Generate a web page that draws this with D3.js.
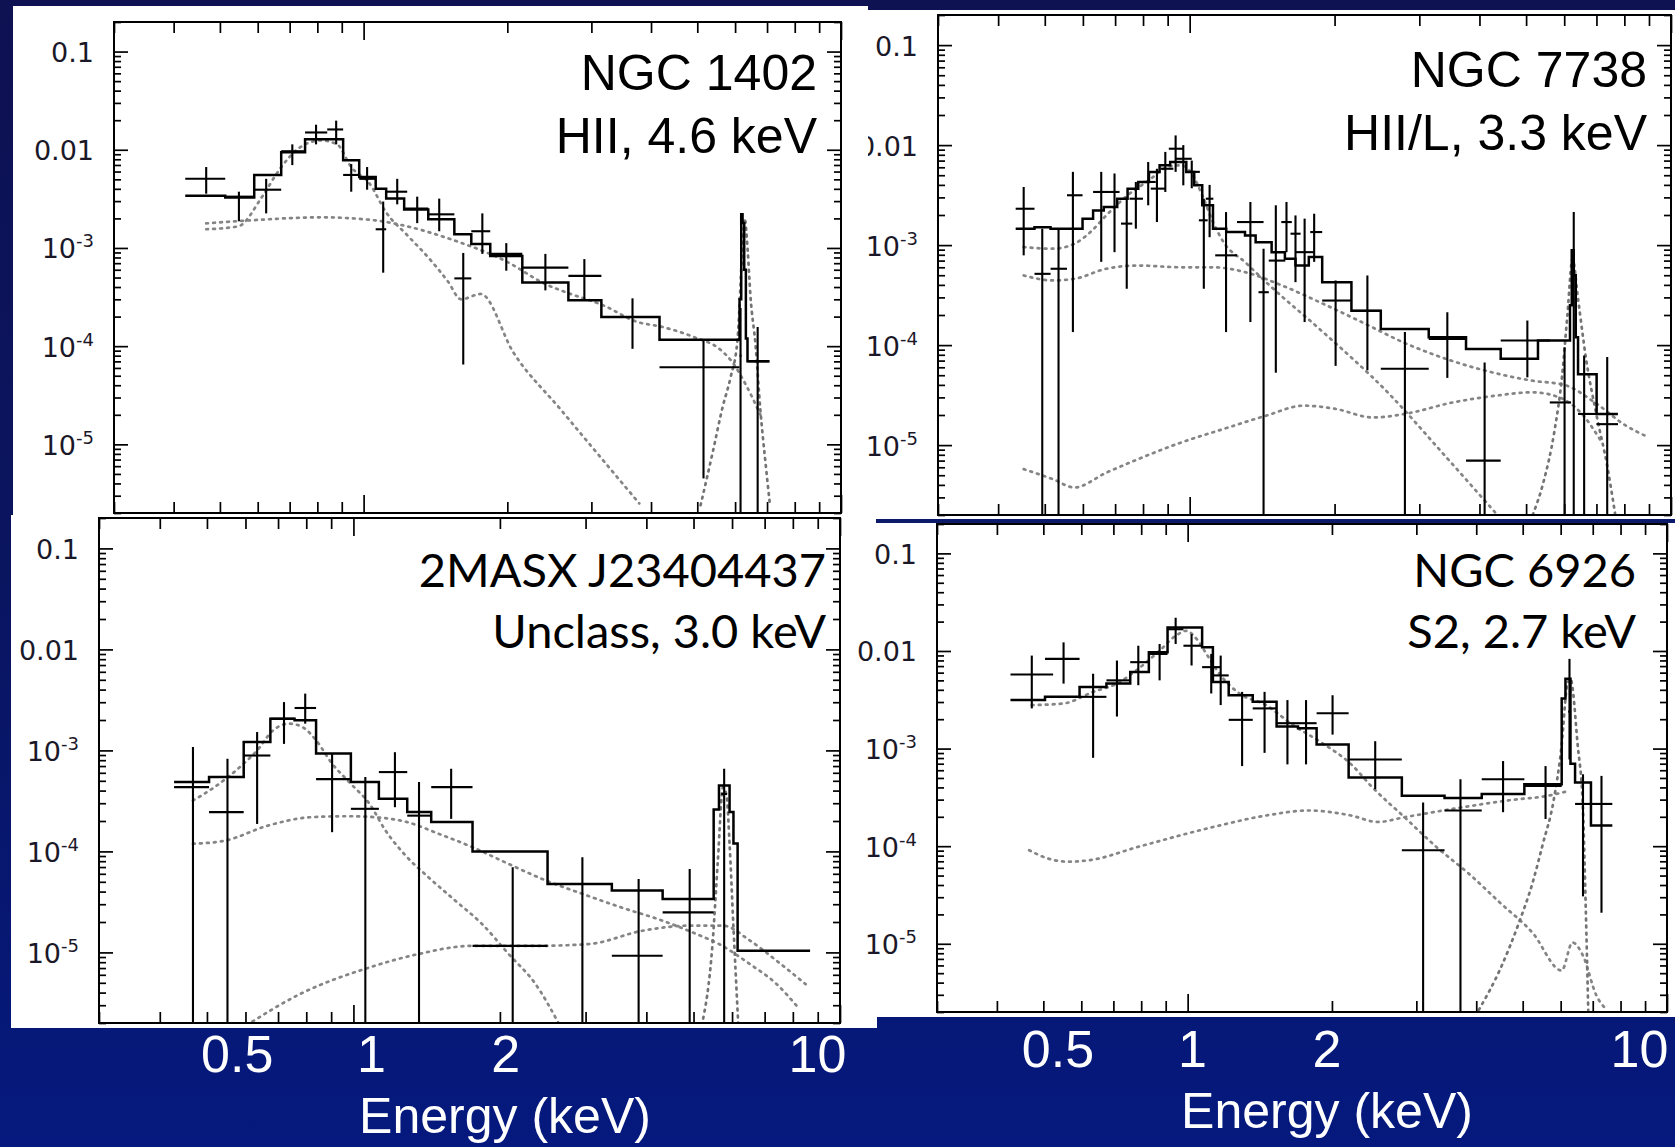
<!DOCTYPE html>
<html>
<head>
<meta charset="utf-8">
<title>X-ray spectra of four galaxies</title>
<script src="https://cdn.jsdelivr.net/npm/d3@7"></script>
<style>
  html, body { margin: 0; padding: 0; background: #0a135c; }
  svg { display: block; }
</style>
</head>
<body>
<svg id="chart" width="1675" height="1147"></svg>
<script>
// ---------- shared axes ----------
const energyDomain = [0.3, 10];          // keV
const fluxDomain = [2e-6, 0.2];          // counts s^-1 keV^-1
const fluxTickValues = [0.1, 0.01, 1e-3, 1e-4, 1e-5];
const energyTickValues = [0.5, 1, 2, 10];
const energyAxisTitle = "Energy (keV)";

// Data rows: [E, Elo, Ehi, flux, fluxLo, fluxHi]
// Model: bin edges (keV) and binned model flux
// Components: [E, flux] samples of each model component

// ---------- NGC 1402 ----------
const ngc1402Title = ["NGC 1402", "HII, 4.6 keV"];
const ngc1402Points = [
  [0.468, 0.423, 0.513, 5.06e-3, 3.57e-3, 6.67e-3],
  [0.548, 0.513, 0.590, 3.33e-3, 1.87e-3, 3.74e-3],
  [0.625, 0.590, 0.672, 3.92e-3, 2.25e-3, 5.06e-3],
  [0.709, 0.672, 0.754, 9.66e-3, 6.98e-3, 1.135e-2],
  [0.795, 0.754, 0.839, 1.50e-2, 1.135e-2, 1.80e-2],
  [0.876, 0.839, 0.906, 1.61e-2, 1.135e-2, 1.98e-2],
  [0.942, 0.906, 0.979, 5.54e-3, 3.74e-3, 7.15e-3],
  [1.017, 0.979, 1.060, 5.06e-3, 3.92e-3, 6.67e-3],
  [1.099, 1.060, 1.115, 1.55e-3, 5.6e-4, 2.97e-3],
  [1.176, 1.115, 1.234, 3.74e-3, 2.78e-3, 5.06e-3],
  [1.295, 1.216, 1.366, 2.52e-3, 1.79e-3, 3.33e-3],
  [1.440, 1.366, 1.549, 2.20e-3, 1.48e-3, 3.18e-3],
  [1.617, 1.549, 1.681, 4.9e-4, 6.5e-5, 8.9e-4],
  [1.773, 1.681, 1.842, 1.48e-3, 8.7e-4, 2.25e-3],
  [1.990, 1.842, 2.150, 8.7e-4, 5.87e-4, 1.12e-3],
  [2.403, 2.150, 2.685, 6.3e-4, 3.7e-4, 8.7e-4],
  [2.900, 2.685, 3.148, 5.2e-4, 2.9e-4, 7.7e-4],
  [3.658, 3.148, 4.167, 1.98e-4, 9.4e-5, 3.07e-4],
  [5.152, 4.167, 6.130, 6.1e-5, 4.5e-6, 1.16e-4],
  [6.160, 6.130, 6.190, 8.0e-5, 1e-7, 2.44e-4],
  [6.690, 6.370, 7.080, 7.0e-5, 1e-7, 1.57e-4]
];
const ngc1402ModelEdges = [0.423, 0.513, 0.590, 0.672, 0.754, 0.839, 0.906, 0.979, 1.06, 1.115, 1.216, 1.366, 1.549, 1.681, 1.842, 2.150, 2.685, 3.148, 4.167, 6.13, 6.18, 6.22, 6.27, 6.32, 6.37, 7.08];
const ngc1402ModelFlux = [3.41e-3, 3.26e-3, 5.54e-3, 9.44e-3, 1.28e-2, 1.28e-2, 7.84e-3, 5.29e-3, 4.01e-3, 3.18e-3, 2.47e-3, 1.96e-3, 1.38e-3, 1.10e-3, 8.3e-4, 4.45e-4, 2.93e-4, 1.98e-4, 1.16e-4, 3.0e-4, 2.2e-3, 1.8e-3, 6.0e-4, 1.2e-4, 7.0e-5];
const ngc1402Thermal = [[0.468, 1.55e-3], [0.546, 1.66e-3], [0.613, 3.33e-3], [0.665, 6.2e-3], [0.736, 1.06e-2], [0.815, 1.245e-2], [0.880, 1.135e-2], [0.942, 6.67e-3], [1.03, 4.5e-3], [1.115, 2.3e-3], [1.234, 1.35e-3], [1.366, 8.0e-4], [1.50, 4.6e-4], [1.60, 3.0e-4], [1.76, 3.4e-4], [2.06, 8.6e-5], [2.58, 2.3e-5], [3.10, 7.9e-6], [3.78, 2.5e-6]];
const ngc1402PowerLaw = [[0.468, 1.78e-3], [0.578, 1.91e-3], [0.815, 2.05e-3], [1.057, 1.91e-3], [1.234, 1.66e-3], [1.52, 1.23e-3], [2.0, 7.2e-4], [2.4, 4.3e-4], [2.67, 3.5e-4], [3.18, 2.6e-4], [3.75, 1.76e-4], [4.2, 1.58e-4], [4.91, 1.24e-4], [5.59, 9.2e-5], [5.93, 6.8e-5], [6.31, 4.1e-5], [6.78, 2.0e-5]];
const ngc1402Iron = [[5.08, 2.4e-6], [5.38, 8.1e-6], [5.65, 2.4e-5], [5.87, 4.8e-5], [6.07, 1.16e-4], [6.20, 8e-4], [6.28, 2.0e-3], [6.38, 9e-4], [6.46, 3.3e-4], [6.62, 1.04e-4], [6.78, 2.2e-5], [6.95, 6.4e-6], [7.1, 2.4e-6]];

// ---------- NGC 7738 ----------
const ngc7738Title = ["NGC 7738", "HII/L, 3.3 keV"];
const ngc7738Points = [
  [0.452, 0.435, 0.476, 2.31e-3, 7.9e-4, 3.81e-3],
  [0.494, 0.476, 0.514, 5.16e-4, 1e-7, 1.46e-3],
  [0.534, 0.514, 0.556, 5.8e-4, 1e-7, 1.46e-3],
  [0.572, 0.556, 0.599, 3.15e-3, 1.35e-4, 5.4e-3],
  [0.655, 0.630, 0.680, 3.4e-3, 6.8e-4, 5.4e-3],
  [0.698, 0.680, 0.715, 3.4e-3, 8.5e-4, 5.2e-3],
  [0.740, 0.720, 0.760, 1.64e-3, 3.66e-4, 3.0e-3],
  [0.773, 0.750, 0.800, 2.91e-3, 1.46e-3, 4.28e-3],
  [0.820, 0.800, 0.850, 4.28e-3, 2.5e-3, 6.78e-3],
  [0.855, 0.830, 0.890, 3.67e-3, 1.7e-3, 5.8e-3],
  [0.890, 0.870, 0.925, 5.8e-3, 3.4e-3, 8.55e-3],
  [0.935, 0.905, 0.970, 9.2e-3, 5.4e-3, 1.25e-2],
  [0.970, 0.935, 1.010, 7.3e-3, 3.96e-3, 1.0e-2],
  [1.010, 0.980, 1.050, 5.4e-3, 3.7e-3, 7.0e-3],
  [1.070, 1.045, 1.090, 1.77e-3, 3.66e-4, 2.91e-3],
  [1.100, 1.080, 1.120, 2.91e-3, 1.2e-3, 4.0e-3],
  [1.190, 1.130, 1.254, 7.9e-4, 1.35e-4, 2.14e-3],
  [1.337, 1.254, 1.424, 1.7e-3, 1.7e-4, 2.7e-3],
  [1.424, 1.390, 1.460, 3.38e-4, 1e-7, 9.2e-4],
  [1.510, 1.460, 1.580, 7.0e-4, 5.3e-5, 2.5e-3],
  [1.589, 1.550, 1.630, 1.7e-3, 8.5e-4, 2.7e-3],
  [1.659, 1.620, 1.700, 1.3e-3, 4.26e-4, 1.98e-3],
  [1.733, 1.660, 1.810, 8.5e-4, 1.7e-4, 1.84e-3],
  [1.814, 1.780, 1.885, 1.35e-3, 6.8e-4, 2.06e-3],
  [2.010, 1.885, 2.168, 2.79e-4, 6.2e-5, 4.43e-4],
  [2.340, 2.168, 2.495, 2.2e-4, 5.6e-5, 4.97e-4],
  [2.800, 2.495, 3.138, 5.8e-5, 1e-7, 1.35e-4],
  [3.430, 3.138, 3.751, 1.15e-4, 4.7e-5, 2.13e-4],
  [4.100, 3.751, 4.428, 7.0e-6, 1e-7, 6.7e-5],
  [5.030, 4.428, 5.600, 1.11e-4, 4.76e-5, 1.76e-4],
  [6.010, 5.600, 6.200, 2.67e-5, 1e-7, 9.5e-5],
  [6.280, 6.240, 6.320, 6.0e-4, 1e-7, 2.14e-3],
  [6.600, 6.410, 7.000, 2.05e-5, 1e-7, 7.85e-5],
  [7.370, 7.000, 7.760, 1.62e-5, 1e-7, 7.6e-5]
];
const ngc7738ModelEdges = [0.435, 0.476, 0.514, 0.599, 0.630, 0.663, 0.707, 0.743, 0.782, 0.823, 0.866, 0.911, 0.984, 1.022, 1.062, 1.118, 1.191, 1.303, 1.371, 1.480, 1.577, 1.659, 1.768, 1.885, 2.168, 2.495, 3.138, 3.751, 4.428, 5.292, 6.168, 6.22, 6.28, 6.34, 6.41, 7.006, 7.756];
const ngc7738ModelFlux = [1.46e-3, 1.51e-3, 1.46e-3, 1.83e-3, 2.22e-3, 2.4e-3, 2.91e-3, 3.67e-3, 4.28e-3, 5.38e-3, 6.28e-3, 6.78e-3, 5.38e-3, 3.96e-3, 2.5e-3, 1.46e-3, 1.35e-3, 1.25e-3, 1.07e-3, 8.5e-4, 7.3e-4, 6.25e-4, 7.6e-4, 4.26e-4, 2.2e-4, 1.45e-4, 1.2e-4, 9.15e-5, 7.3e-5, 1.11e-4, 2.5e-4, 8.9e-4, 5.0e-4, 1.2e-4, 5.1e-5, 2.05e-5];
const ngc7738Thermal = [[0.452, 9.55e-4], [0.520, 9.2e-4], [0.576, 1.03e-3], [0.622, 1.35e-3], [0.671, 1.98e-3], [0.743, 3.15e-3], [0.823, 4.45e-3], [0.900, 6.04e-3], [0.959, 6.28e-3], [1.010, 5.19e-3], [1.062, 3.15e-3], [1.118, 1.7e-3], [1.176, 1.07e-3], [1.303, 6.76e-4], [1.476, 3.83e-4], [1.861, 1.45e-4], [2.599, 3.24e-5], [3.344, 8.45e-6], [4.32, 2.1e-6]];
const ngc7738PowerLaw = [[0.452, 4.97e-4], [0.520, 4.43e-4], [0.576, 4.6e-4], [0.671, 5.8e-4], [0.782, 6.25e-4], [0.959, 6.0e-4], [1.118, 6.0e-4], [1.303, 5.37e-4], [1.557, 3.94e-4], [1.861, 2.69e-4], [2.282, 1.69e-4], [2.798, 1.05e-4], [3.432, 7.2e-5], [4.21, 5.4e-5], [5.16, 4.4e-5], [6.0, 4.0e-5], [7.0, 2.6e-5], [8.0, 1.6e-5], [8.97, 1.2e-5]];
const ngc7738Scattered = [[0.452, 5.75e-6], [0.520, 4.56e-6], [0.576, 3.77e-6], [0.671, 5.3e-6], [0.782, 7.25e-6], [0.959, 1.06e-5], [1.176, 1.45e-5], [1.442, 1.97e-5], [1.724, 2.48e-5], [2.010, 2.3e-5], [2.401, 1.89e-5], [2.798, 2.05e-5], [3.52, 2.67e-5], [4.32, 3.12e-5], [5.16, 3.37e-5], [5.86, 3.0e-5], [6.49, 2.12e-5], [7.19, 1.06e-5]];
const ngc7738Iron = [[5.16, 2e-6], [5.43, 4.23e-6], [5.72, 1.34e-5], [5.94, 4.94e-5], [6.09, 1.97e-4], [6.245, 7.3e-4], [6.41, 2.9e-4], [6.66, 7.3e-5], [7.006, 1.97e-5], [7.37, 6.2e-6], [7.66, 2e-6]];

// ---------- 2MASX J23404437 ----------
const j2340Title = ["2MASX J23404437", "Unclass, 3.0 keV"];
const j2340Points = [
  [0.468, 0.428, 0.505, 4.33e-4, 1e-7, 1.08e-3],
  [0.551, 0.505, 0.595, 2.45e-4, 1e-7, 8.26e-4],
  [0.634, 0.595, 0.675, 8.9e-4, 1.87e-4, 1.52e-3],
  [0.720, 0.675, 0.757, 2.06e-3, 1.16e-3, 3.01e-3],
  [0.796, 0.757, 0.838, 2.63e-3, 1.84e-3, 3.65e-3],
  [0.904, 0.838, 0.988, 5.2e-4, 1.55e-4, 9.3e-4],
  [1.058, 0.988, 1.128, 2.64e-4, 1e-7, 5.44e-4],
  [1.217, 1.128, 1.290, 6.1e-4, 2.74e-4, 9.6e-4],
  [1.364, 1.290, 1.445, 2.26e-4, 1e-7, 4.86e-4],
  [1.588, 1.445, 1.757, 4.33e-4, 2.1e-4, 6.58e-4],
  [2.125, 1.757, 2.506, 1.16e-5, 1e-7, 6.97e-5],
  [2.955, 2.506, 3.397, 4.76e-5, 1e-7, 8.75e-5],
  [3.856, 3.397, 4.320, 9.27e-6, 1e-7, 5.33e-5],
  [4.910, 4.320, 5.500, 2.49e-5, 1e-7, 6.7e-5],
  [5.780, 5.700, 5.860, 3.7e-4, 1e-7, 6.58e-4]
];
const j2340ModelEdges = [0.428, 0.505, 0.595, 0.675, 0.757, 0.838, 0.988, 1.128, 1.29, 1.445, 1.757, 2.506, 3.397, 4.32, 5.50, 5.64, 5.78, 5.93, 6.04, 6.16, 8.68];
const j2340ModelFlux = [4.86e-4, 5.44e-4, 1.21e-3, 2.06e-3, 1.99e-3, 9.3e-4, 4.86e-4, 3.32e-4, 2.45e-4, 1.95e-4, 1.0e-4, 4.76e-5, 4.1e-5, 3.38e-5, 2.6e-4, 4.5e-4, 4.5e-4, 2.45e-4, 1.2e-4, 1.04e-5];
const j2340Thermal = [[0.468, 3.19e-4], [0.518, 4.33e-4], [0.595, 7.4e-4], [0.634, 1.0e-3], [0.684, 1.58e-3], [0.738, 1.84e-3], [0.786, 1.70e-3], [0.838, 1.26e-3], [0.904, 7.4e-4], [0.988, 4.67e-4], [1.079, 2.96e-4], [1.164, 1.61e-4], [1.29, 8.75e-5], [1.426, 5.55e-5], [1.62, 3.25e-5], [1.838, 1.91e-5], [2.086, 9.6e-6], [2.368, 4.85e-6], [2.654, 1.9e-6]];
const j2340PowerLaw = [[0.468, 1.19e-4], [0.545, 1.28e-4], [0.667, 1.8e-4], [0.817, 2.18e-4], [0.975, 2.23e-4], [1.107, 2.18e-4], [1.29, 1.95e-4], [1.50, 1.49e-4], [1.757, 1.1e-4], [2.086, 7.5e-5], [2.49, 5.14e-5], [2.955, 3.8e-5], [3.55, 2.79e-5], [4.32, 2.06e-5], [5.07, 1.52e-5], [5.64, 1.21e-5], [6.53, 7.66e-6], [7.41, 4.85e-6], [8.2, 2.85e-6]];
const j2340Scattered = [[0.603, 1.9e-6], [0.776, 3.86e-6], [1.079, 7.1e-6], [1.356, 9.6e-6], [1.747, 1.16e-5], [2.368, 1.16e-5], [3.05, 1.21e-5], [3.93, 1.64e-5], [4.91, 1.84e-5], [5.75, 1.84e-5], [6.53, 1.31e-5], [7.41, 8.26e-6], [8.5, 4.85e-6]];
const j2340Iron = [[5.20, 1.9e-6], [5.47, 1.21e-5], [5.61, 8.1e-5], [5.75, 4.33e-4], [5.85, 3.5e-4], [5.93, 1.19e-4], [6.04, 1.77e-5], [6.18, 1.9e-6]];

// ---------- NGC 6926 ----------
const ngc6926Title = ["NGC 6926", "S2, 2.7 keV"];
const ngc6926Points = [
  [0.473, 0.427, 0.524, 5.75e-3, 2.58e-3, 8.97e-3],
  [0.551, 0.504, 0.595, 8.3e-3, 4.63e-3, 1.225e-2],
  [0.635, 0.595, 0.677, 3.39e-3, 8.04e-4, 5.85e-3],
  [0.712, 0.677, 0.759, 5.0e-3, 2.13e-3, 7.98e-3],
  [0.789, 0.759, 0.830, 7.68e-3, 4.46e-3, 1.132e-2],
  [0.874, 0.830, 0.908, 9.33e-3, 5.0e-3, 1.18e-2],
  [0.944, 0.908, 0.980, 1.67e-2, 1.18e-2, 2.19e-2],
  [1.019, 0.980, 1.072, 1.132e-2, 7.1e-3, 1.49e-2],
  [1.120, 1.072, 1.172, 6.83e-3, 3.67e-3, 9.33e-3],
  [1.172, 1.130, 1.218, 5.62e-3, 2.79e-3, 8.97e-3],
  [1.299, 1.218, 1.367, 1.97e-3, 6.62e-4, 3.81e-3],
  [1.447, 1.367, 1.533, 2.58e-3, 9.04e-4, 3.81e-3],
  [1.615, 1.533, 1.699, 1.82e-3, 6.89e-4, 3.14e-3],
  [1.766, 1.699, 1.858, 1.82e-3, 6.89e-4, 3.14e-3],
  [2.006, 1.858, 2.167, 2.3e-3, 1.39e-3, 3.52e-3],
  [2.462, 2.167, 2.798, 7.74e-4, 3.84e-4, 1.19e-3],
  [3.099, 2.798, 3.435, 9.1e-5, 1e-7, 2.81e-4],
  [3.708, 3.435, 4.107, 2.32e-4, 1e-7, 4.85e-4],
  [4.550, 4.107, 5.040, 4.85e-4, 2.23e-4, 7.45e-4],
  [5.580, 5.040, 6.030, 4.15e-4, 1.9e-4, 6.62e-4],
  [6.260, 6.220, 6.300, 2.39e-3, 7.74e-4, 8.3e-3],
  [6.680, 6.430, 6.950, 2.71e-4, 3.06e-5, 5.45e-4],
  [7.300, 6.950, 7.690, 2.71e-4, 2.08e-5, 5.25e-4]
];
const ngc6926ModelEdges = [0.427, 0.504, 0.595, 0.677, 0.759, 0.830, 0.908, 0.980, 1.072, 1.129, 1.218, 1.367, 1.533, 1.699, 1.858, 2.167, 2.798, 3.435, 4.107, 5.04, 6.03, 6.14, 6.29, 6.43, 6.94, 7.69];
const ngc6926ModelFlux = [3.14e-3, 3.39e-3, 4.28e-3, 4.63e-3, 6.08e-3, 9.7e-3, 1.74e-2, 1.74e-2, 1.09e-2, 4.81e-3, 3.52e-3, 3.02e-3, 1.68e-3, 1.62e-3, 1.1e-3, 5.05e-4, 3.29e-4, 3.12e-4, 3.42e-4, 4.32e-4, 3.25e-3, 5.2e-3, 7.0e-4, 4.49e-4, 1.63e-4];
const ngc6926Thermal = [[0.473, 2.79e-3], [0.551, 2.9e-3], [0.635, 3.81e-3], [0.712, 4.63e-3], [0.789, 6.57e-3], [0.874, 1.007e-2], [0.944, 1.43e-2], [0.993, 1.61e-2], [1.045, 1.32e-2], [1.10, 8.97e-3], [1.172, 5.62e-3], [1.282, 3.67e-3], [1.457, 2.79e-3], [1.656, 1.75e-3], [1.882, 1.19e-3], [2.194, 6.89e-4], [2.431, 3.99e-4], [2.834, 1.98e-4], [3.30, 9.85e-5], [3.85, 5.28e-5], [4.49, 2.62e-5], [5.24, 1.3e-5], [6.03, 5.32e-6], [6.35, 1.03e-5], [6.68, 7.55e-6], [7.12, 2.97e-6], [7.49, 2.1e-6]];
const ngc6926Scattered = [[0.467, 9.1e-5], [0.510, 7.5e-5], [0.566, 6.93e-5], [0.626, 7.2e-5], [0.789, 9.85e-5], [1.129, 1.57e-4], [1.457, 2.06e-4], [1.789, 2.32e-4], [2.194, 2.06e-4], [2.49, 1.77e-4], [2.834, 1.98e-4], [3.57, 2.41e-4], [4.73, 2.97e-4], [5.65, 3.29e-4], [6.26, 3.7e-4]];
const ngc6926Iron = [[4.05, 2.1e-6], [4.49, 5.53e-6], [4.91, 1.64e-5], [5.24, 4.18e-5], [5.51, 1.06e-4], [5.80, 2.92e-4], [6.03, 1.1e-3], [6.19, 4.46e-3], [6.29, 5.2e-3], [6.51, 1.1e-3], [6.68, 2.32e-4], [6.77, 2.24e-5], [6.85, 2.1e-6]];

// ---------- layout ----------
const W = 1675, H = 1147;
const helv = "'Liberation Sans', Arial, Helvetica, sans-serif";
const humanist = "Lato, 'Open Sans', sans-serif";
const tickFont = "'DejaVu Sans', sans-serif";

const panels = [
  { id: "n1402", title: ngc1402Title, titleFont: helv, titleSize: 50, titleRight: 817, titleBase: [90, 153],
    sheet: [13, 6, 855, 509], frame: [114, 841, 22, 513],
    points: ngc1402Points, edges: ngc1402ModelEdges, model: ngc1402ModelFlux,
    curves: [ngc1402Thermal, ngc1402PowerLaw], iron: ngc1402Iron },
  { id: "n7738", title: ngc7738Title, titleFont: helv, titleSize: 50, titleRight: 1647, titleBase: [87, 150],
    sheet: [868, 10, 807, 509], frame: [938, 1671, 15, 515],
    points: ngc7738Points, edges: ngc7738ModelEdges, model: ngc7738ModelFlux,
    curves: [ngc7738Thermal, ngc7738PowerLaw, ngc7738Scattered], iron: ngc7738Iron },
  { id: "j2340", title: j2340Title, titleFont: humanist, titleSize: 47, titleRight: 826, titleBase: [587, 648],
    sheet: [11, 515, 866, 513], frame: [99, 840, 518, 1023],
    points: j2340Points, edges: j2340ModelEdges, model: j2340ModelFlux,
    curves: [j2340Thermal, j2340PowerLaw, j2340Scattered], iron: j2340Iron },
  { id: "n6926", title: ngc6926Title, titleFont: humanist, titleSize: 47, titleRight: 1636, titleBase: [587, 648],
    sheet: [843, 523, 832, 494], frame: [937, 1667, 524, 1012],
    points: ngc6926Points, edges: ngc6926ModelEdges, model: ngc6926ModelFlux,
    curves: [ngc6926Thermal, ngc6926Scattered], iron: ngc6926Iron }
];

// slide labels under the lower panels
const energyLabelAxes = [
  { range: [371, 817], base: 1072, titleX: 505, titleBase: 1133 },
  { range: [1192, 1639], base: 1067, titleX: 1327, titleBase: 1128 }
];

// ---------- drawing ----------
const svg = d3.select("#chart");
const defs = svg.append("defs");
const bg = defs.append("linearGradient").attr("id", "slideBg")
  .attr("x1", 0).attr("y1", 0).attr("x2", 0).attr("y2", 1);
bg.append("stop").attr("offset", "0%").attr("stop-color", "#0e1152");
bg.append("stop").attr("offset", "50%").attr("stop-color", "#0a1560");
bg.append("stop").attr("offset", "100%").attr("stop-color", "#05197e");
svg.append("rect").attr("width", W).attr("height", H).attr("fill", "url(#slideBg)");

// log-axis tick positions: 1..9 per decade
function logTicks(domain) {
  const out = [];
  const e0 = Math.floor(Math.log10(domain[0])), e1 = Math.ceil(Math.log10(domain[1]));
  for (let e = e0; e <= e1; e++) {
    for (let m = 1; m <= 9; m++) {
      const v = +(m + "e" + e);
      if (v >= domain[0] * 0.999 && v <= domain[1] * 1.001) out.push(v);
    }
  }
  return out;
}
const isDecade = v => Math.abs(Math.log10(v) - Math.round(Math.log10(v))) < 1e-9;
const fluxMinor = logTicks(fluxDomain);
const energyMinor = logTicks(energyDomain);

const dotted = sel => sel
  .attr("fill", "none")
  .attr("stroke", "#858585")
  .attr("stroke-width", 2.7)
  .attr("stroke-linecap", "round")
  .attr("stroke-dasharray", "1.8,5.2");

panels.forEach(p => {
  const [sx, sy, sw, sh] = p.sheet;
  const [x0, x1, y0, y1] = p.frame;

  defs.append("clipPath").attr("id", "sheet-" + p.id)
    .append("rect").attr("x", sx).attr("y", sy).attr("width", sw).attr("height", sh);
  defs.append("clipPath").attr("id", "plot-" + p.id)
    .append("rect").attr("x", x0).attr("y", y0).attr("width", x1 - x0).attr("height", y1 - y0);

  const g = svg.append("g").attr("clip-path", `url(#sheet-${p.id})`);
  g.append("rect").attr("x", sx).attr("y", sy).attr("width", sw).attr("height", sh).attr("fill", "#ffffff");

  const x = d3.scaleLog().domain(energyDomain).range([x0, x1]);
  const y = d3.scaleLog().domain(fluxDomain).range([y1, y0]);

  const plot = g.append("g").attr("clip-path", `url(#plot-${p.id})`);

  // dotted model components
  const smooth = d3.line().x(d => x(d[0])).y(d => y(d[1])).curve(d3.curveMonotoneX);
  plot.selectAll("path.component").data(p.curves).join("path")
    .attr("class", "component")
    .attr("d", smooth)
    .call(dotted);
  plot.append("path").datum(p.iron)
    .attr("d", smooth)
    .call(dotted)
    .attr("stroke", "#747474");

  // folded model as a histogram
  const stepData = p.edges.map((e, k) => [e, p.model[Math.min(k, p.model.length - 1)]]);
  plot.append("path").datum(stepData)
    .attr("d", d3.line().x(d => x(d[0])).y(d => y(d[1])).curve(d3.curveStepAfter))
    .attr("fill", "none")
    .attr("stroke", "#000")
    .attr("stroke-width", 2.5);

  // data with error crosses
  const pts = plot.selectAll("g.pt").data(p.points).join("g").attr("class", "pt");
  pts.append("line")
    .attr("x1", d => x(d[1])).attr("x2", d => x(d[2]))
    .attr("y1", d => y(d[3])).attr("y2", d => y(d[3]));
  pts.append("line")
    .attr("x1", d => x(d[0])).attr("x2", d => x(d[0]))
    .attr("y1", d => y(d[4])).attr("y2", d => y(d[5]));
  pts.selectAll("line").attr("stroke", "#000").attr("stroke-width", 2.1);

  // frame
  g.append("rect").attr("x", x0).attr("y", y0).attr("width", x1 - x0).attr("height", y1 - y0)
    .attr("fill", "none").attr("stroke", "#000").attr("stroke-width", 2);

  // inward ticks on all four sides
  function addTicks(axis, transform, values, attr, sign, minorLen, majorLen) {
    const a = g.append("g").attr("transform", transform)
      .call(axis.tickValues(values).tickSize(minorLen).tickFormat(""));
    a.select(".domain").remove();
    a.selectAll(".tick line").attr("stroke", "#000").attr("stroke-width", 1.7)
      .filter(d => isDecade(d)).attr(attr, sign * majorLen);
  }
  addTicks(d3.axisRight(y), `translate(${x0},0)`, fluxMinor, "x2", 1, 7, 14);
  addTicks(d3.axisLeft(y), `translate(${x1},0)`, fluxMinor, "x2", -1, 7, 14);
  addTicks(d3.axisBottom(x), `translate(0,${y0})`, energyMinor, "y2", 1, 11, 18);
  addTicks(d3.axisTop(x), `translate(0,${y1})`, energyMinor, "y2", -1, 11, 18);

  // flux labels
  const yl = g.append("g").attr("transform", `translate(${x0},0)`)
    .call(d3.axisLeft(y).tickValues(fluxTickValues).tickSize(0).tickPadding(20).tickFormat(""));
  yl.select(".domain").remove();
  yl.selectAll(".tick text")
    .attr("font-family", tickFont)
    .attr("font-size", 27)
    .attr("fill", "#1a1828")
    .attr("dy", "0.37em")
    .each(function (d) {
      const t = d3.select(this);
      const exp = Math.round(Math.log10(d));
      if (exp >= -2) {
        t.text(d3.format("~g")(d));
      } else {
        t.append("tspan").text("10");
        t.append("tspan").attr("dy", -11).attr("font-size", 18).text(String(exp));
      }
    });

  // object name and class
  const tt = g.append("text")
    .attr("font-family", p.titleFont)
    .attr("font-size", p.titleSize)
    .attr("fill", "#000")
    .attr("text-anchor", "end");
  p.title.forEach((line, k) => {
    tt.append("tspan").attr("x", p.titleRight).attr("y", p.titleBase[k]).text(line);
  });
});

// thin dark rule between the two right-hand panels
svg.append("rect").attr("x", 876).attr("y", 519).attr("width", W - 876).attr("height", 4).attr("fill", "#0c1a6c");

// energy labels on the slide background
energyLabelAxes.forEach(a => {
  const s = d3.scaleLog().domain([1, 10]).range(a.range);
  const ax = svg.append("g").attr("transform", `translate(0,${a.base})`)
    .call(d3.axisBottom(s).tickValues(energyTickValues).tickSize(0).tickFormat(d3.format("~g")));
  ax.select(".domain").remove();
  ax.selectAll(".tick text")
    .attr("y", 0).attr("dy", 0)
    .attr("fill", "#ffffff")
    .attr("font-family", helv)
    .attr("font-size", 52);
  svg.append("text")
    .attr("x", a.titleX).attr("y", a.titleBase)
    .attr("text-anchor", "middle")
    .attr("fill", "#ffffff")
    .attr("font-family", helv)
    .attr("font-size", 50)
    .text(energyAxisTitle);
});
</script>
</body>
</html>
